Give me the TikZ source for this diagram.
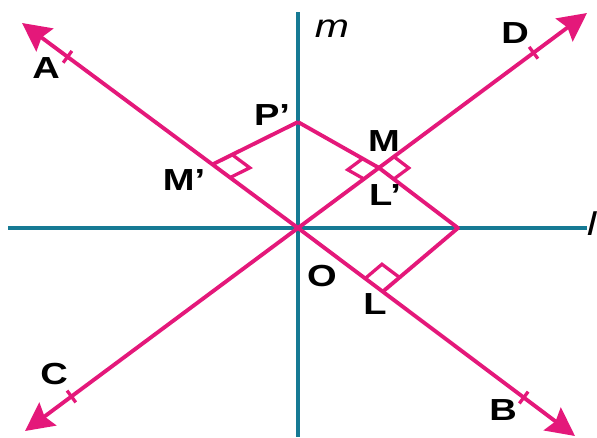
\documentclass[tikz,border=0pt]{standalone}
\usepackage{fontspec}
\setmainfont{Liberation Sans}
\usetikzlibrary{arrows.meta,calc}
\definecolor{raypink}{RGB}{228,24,122}
\definecolor{axisteal}{RGB}{22,122,148}
\tikzset{
  axisline/.style={line width=3.5pt, axisteal},
  rayline/.style={line width=3.3pt, raypink, -{Stealth[length=0.85cm, width=0.85cm, inset=0.12cm]}},
  footline/.style={line width=3.3pt, raypink, line join=round},
  rtmark/.style={line width=2.8pt, raypink},
  tickmark/.style={line width=2.8pt, raypink},
  ptlabel/.style={font=\fontsize{26}{28}\selectfont\bfseries, inner sep=0pt},
  axislabel/.style={font=\fontsize{28}{30}\selectfont\itshape, inner sep=0pt}
}
\newcommand{\wide}[1]{\scalebox{1.25}[1]{#1}}
% right-angle mark at #1 between the rays to #2 and #3
\newcommand{\rtangle}[4]{%
  \coordinate (ra) at ($(#1)!#4!(#2)$);
  \coordinate (rb) at ($(#1)!#4!(#3)$);
  \draw[rtmark] (ra) -- ($(ra)+(rb)-(#1)$) -- (rb);}

\begin{document}
\begin{tikzpicture}[x=0.03cm, y=-0.03cm]
  \useasboundingbox (0,0) rectangle (597,437);
  % lines l and m
  \coordinate (O) at (298,228);
  \coordinate (lw) at (8,228);
  \coordinate (le) at (587,228);
  \coordinate (mt) at (298,12);
  \coordinate (mb) at (298,437);
  \draw[axisline] (lw) -- (le);
  \draw[axisline] (mt) -- (mb);
  % the four rays with their ticks
  \coordinate (A) at (22,23);
  \coordinate (B) at (575,436);
  \coordinate (C) at (25,431);
  \coordinate (D) at (587,13);
  \foreach \r/\f in {A/0.835,B/0.815,C/0.83,D/0.815}{
    \draw[rayline] (O) -- (\r);
    \coordinate (t) at ($(O)!\f!(\r)$);
    \draw[tickmark] ($(t)!0.22cm!90:(\r)$) -- ($(t)!0.22cm!-90:(\r)$);
  }
  % feet of the perpendiculars
  \coordinate (P) at (458,228);
  \coordinate (Pp) at (298,122);
  \coordinate (L) at ($(O)!0.306!(B)$);
  \coordinate (M) at ($(O)!0.28!(D)$);
  \coordinate (Mp) at ($(O)!0.31!(A)$);
  \draw[footline] (Pp) -- (Mp);
  \draw[footline] (Pp) -- (M) -- (P) -- (L);
  \rtangle{L}{O}{P}{0.66cm}
  \rtangle{Mp}{Pp}{O}{0.66cm}
  \rtangle{M}{Pp}{O}{0.56cm}
  \rtangle{M}{D}{P}{0.56cm}
  % labels
  \node[ptlabel] (lA) at (46,68) {\wide{A}};
  \node[ptlabel] (lB) at (503,410) {\wide{B}};
  \node[ptlabel] (lC) at (54,374) {\wide{C}};
  \node[ptlabel] (lD) at (515,33) {\wide{D}};
  \node[ptlabel] (lO) at (322,276) {\wide{O}};
  \node[ptlabel] (lL) at (375,304) {\wide{L}};
  \node[ptlabel] (lM) at (384,141) {\wide{M}};
  \node[ptlabel] (lLp) at (385,195) {\wide{L’}};
  \node[ptlabel] (lMp) at (184,180) {\wide{M’}};
  \node[ptlabel] (lPp) at (272,115) {\wide{P’}};
  \node[axislabel] (lm) at (332,29) {\wide{m}};
  \node[axislabel, anchor=west] (ll) at (587,224) {\wide{l}};
\end{tikzpicture}
\end{document}
